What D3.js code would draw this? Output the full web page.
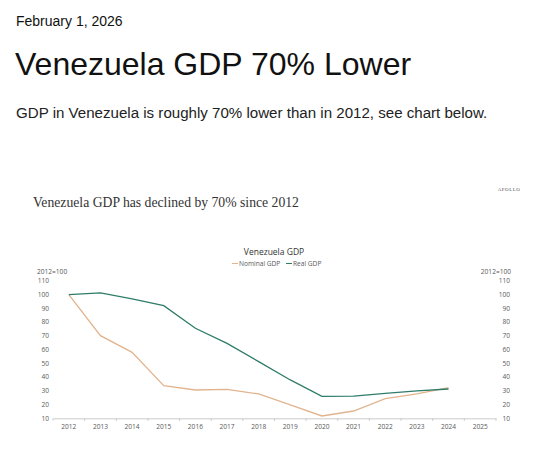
<!DOCTYPE html>
<html>
<head>
<meta charset="utf-8">
<script src="https://cdn.jsdelivr.net/npm/d3@7"></script>
<style>
  html, body { margin: 0; padding: 0; background: #fff; }
  svg { display: block; }
</style>
</head>
<body>
<div id="target"></div>
<script>
const years = d3.range(2012, 2026).map(String)
const dataYears = d3.range(2012, 2025).map(String)
const nominalGdp = [100, 70.1, 58, 33.7, 30.6, 31.1, 27.7, 19.7, 11.7, 15.3, 24.3, 27.7, 32.3]
const realGdp = [100, 101.2, 96.8, 91.9, 75.5, 64.5, 51.2, 37.9, 26, 26.2, 28.2, 29.9, 31.3]
const yTicks = [10, 20, 30, 40, 50, 60, 70, 80, 90, 100, 110]

const colors = {
    nominal: '#e2b48e',
    real: '#2f7c69',
    text: '#222',
    tick: '#595959',
    axis: '#bfbfbf'
}

const width = 555
const height = 468

const svg = d3.select('#target').append('svg')
    .attr('width', width)
    .attr('height', height)

// header
svg.append('text')
    .attr('x', 16).attr('y', 26)
    .attr('font-family', 'Liberation Sans, Arial')
    .attr('font-size', 14)
    .attr('fill', '#111')
    .text('February 1, 2026')

svg.append('text')
    .attr('x', 15).attr('y', 75)
    .attr('font-family', 'Liberation Sans, Arial')
    .attr('font-size', 32)
    .attr('fill', '#111')
    .text('Venezuela GDP 70% Lower')

svg.append('text')
    .attr('x', 16).attr('y', 118)
    .attr('font-family', 'Liberation Sans, Arial')
    .attr('font-size', 15.1)
    .attr('fill', '#222')
    .text('GDP in Venezuela is roughly 70% lower than in 2012, see chart below.')

// chart title block
svg.append('text')
    .attr('x', 33).attr('y', 207)
    .attr('font-family', 'Liberation Serif, serif')
    .attr('font-size', 13.7)
    .attr('fill', '#333')
    .text('Venezuela GDP has declined by 70% since 2012')

svg.append('text')
    .attr('x', 509).attr('y', 191)
    .attr('text-anchor', 'middle')
    .attr('font-family', 'Liberation Serif, serif')
    .attr('font-size', 5)
    .attr('letter-spacing', 0.5)
    .attr('fill', '#555')
    .text('APOLLO')

svg.append('text')
    .attr('x', 274).attr('y', 255)
    .attr('text-anchor', 'middle')
    .attr('font-family', 'Open Sans, sans-serif')
    .attr('font-size', 8.5)
    .attr('fill', '#333')
    .text('Venezuela GDP')

// legend
const legend = svg.append('g')
    .attr('font-family', 'Open Sans, sans-serif')
    .attr('font-size', 6.6)
    .attr('fill', colors.tick)
const legendItems = [
    { name: 'Nominal GDP', color: colors.nominal, x: 232 },
    { name: 'Real GDP', color: colors.real, x: 286 }
]
legendItems.forEach(d => {
    legend.append('line')
        .attr('x1', d.x).attr('x2', d.x + 6)
        .attr('y1', 263.5).attr('y2', 263.5)
        .attr('stroke', d.color).attr('stroke-width', 1)
    legend.append('text')
        .attr('x', d.x + 7).attr('y', 265.8)
        .text(d.name)
})

// scales
const x = d3.scaleBand()
    .domain(years)
    .range([53, 496])

const y = d3.scaleLinear()
    .domain([10, 110])
    .range([418.3, 280.8])

const tickFont = g => g
    .attr('font-family', 'Open Sans, sans-serif')
    .attr('font-size', 6.6)
    .attr('fill', colors.tick)

// left axis labels
const leftAxis = svg.append('g').call(tickFont)
leftAxis.selectAll('text.tick')
    .data(yTicks)
    .enter()
    .append('text')
    .attr('class', 'tick')
    .attr('x', 49)
    .attr('y', d => y(d))
    .attr('dy', '0.35em')
    .attr('text-anchor', 'end')
    .text(d => d)
leftAxis.append('text')
    .attr('x', 37).attr('y', y(110) - 9.5)
    .attr('dy', '0.35em')
    .attr('text-anchor', 'start')
    .text('2012=100')

// right axis labels
const rightAxis = svg.append('g').call(tickFont)
rightAxis.selectAll('text.tick')
    .data(yTicks)
    .enter()
    .append('text')
    .attr('class', 'tick')
    .attr('x', 510)
    .attr('y', d => y(d))
    .attr('dy', '0.35em')
    .attr('text-anchor', 'end')
    .text(d => d)
rightAxis.append('text')
    .attr('x', 511).attr('y', y(110) - 9.5)
    .attr('dy', '0.35em')
    .attr('text-anchor', 'end')
    .text('2012=100')

// x axis
const xAxis = svg.append('g')
    .attr('transform', `translate(0,${y(10)})`)
    .call(d3.axisBottom(x).tickSize(0).tickPadding(6))
xAxis.select('.domain').attr('stroke', colors.axis).attr('stroke-width', 0.8)
xAxis.selectAll('text')
    .attr('font-family', 'Open Sans, sans-serif')
    .attr('font-size', 6.6)
    .attr('fill', colors.tick)
xAxis.selectAll('line.sep')
    .data(years.concat(['end']))
    .enter()
    .append('line')
    .attr('class', 'sep')
    .attr('x1', (d, i) => x.range()[0] + i * x.step())
    .attr('x2', (d, i) => x.range()[0] + i * x.step())
    .attr('y1', 0).attr('y2', 2.5)
    .attr('stroke', colors.axis)
    .attr('stroke-width', 0.8)

// lines
const line = d3.line()
    .x((d, i) => x(dataYears[i]) + x.bandwidth() / 2)
    .y(d => y(d))

svg.append('path')
    .datum(nominalGdp)
    .attr('d', line)
    .attr('fill', 'none')
    .attr('stroke', colors.nominal)
    .attr('stroke-width', 1.3)

svg.append('path')
    .datum(realGdp)
    .attr('d', line)
    .attr('fill', 'none')
    .attr('stroke', colors.real)
    .attr('stroke-width', 1.3)
</script>
</body>
</html>
